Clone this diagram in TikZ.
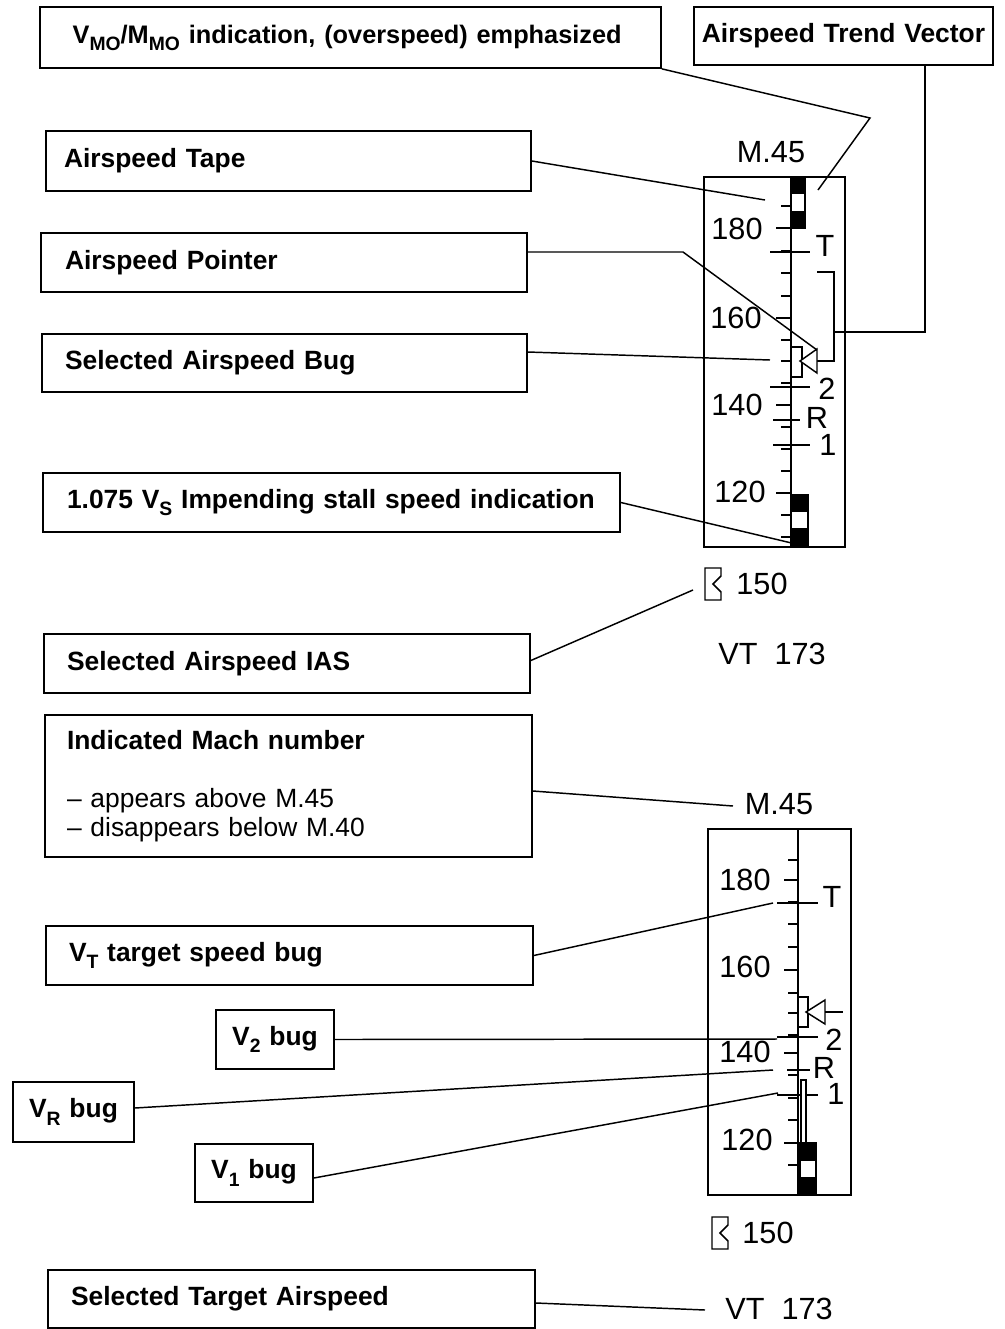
\documentclass[tikz,border=0pt]{standalone}
\usepackage{fontspec}
\setmainfont{Liberation Sans}
\usetikzlibrary{calc}
\newcommand\sbs[1]{\raisebox{-0.28em}{\fontsize{14.5}{14.5}\selectfont #1}}
\newcommand\mybox[8]{%
  \pgfmathsetmacro\myBW{(#4-#2)*0.75}%
  \pgfmathsetmacro\myBH{(#5-#3)*0.75}%
  \pgfmathsetmacro\myTW{(#4-#2-2*#7)*0.75}%
  \pgfmathsetmacro\myPD{#7*0.75}%
  \node[box, align=#6, minimum width=\myBW pt, minimum height=\myBH pt,
        text width=\myTW pt, inner xsep=\myPD pt] (#1) at ({(#2+#4)/2},{(#3+#5)/2}) {#8};}
\begin{document}
\begin{tikzpicture}[x=0.75pt,y=-0.75pt,
  box/.style={draw, line width=1.3pt, font=\bfseries\fontsize{19.8}{21.75}\selectfont, inner ysep=0pt},
  lead/.style={line width=1.1pt},
  tl/.style={inner sep=0pt, font=\fontsize{23}{25}\selectfont},
  tick/.style={line width=1.1pt},
  fr/.style={line width=1.3pt}]
\useasboundingbox (0,0) rectangle (1005,1329);

% ---------- label boxes ----------
\mybox{vmo}{40}{7}{661}{68}{left}{14}{\hspace*{14pt}\fontsize{19}{21}\selectfont\mbox{V\sbs{MO}/M\sbs{MO} indication, (overspeed) emphasized}}
\mybox{atv}{694}{7}{993}{65}{center}{0}{Airspeed Trend Vector}
\mybox{tape}{46}{131}{531}{191}{left}{18}{Airspeed Tape}
\mybox{ptr}{41}{233}{527}{292}{left}{24}{Airspeed Pointer}
\mybox{bug}{42}{334}{527}{392}{left}{23}{Selected Airspeed Bug}
\mybox{stall}{43}{473}{620}{532}{left}{24}{\mbox{1.075 V\sbs{S} Impending stall speed indication}}
\mybox{ias}{44}{634}{530}{693}{left}{23}{Selected Airspeed IAS}
\mybox{mach}{45}{715}{532}{857}{left}{22}{Indicated Mach number\\[21.75pt]\mdseries -- appears above M.45\\ -- disappears below M.40}
\mybox{vt}{46}{926}{533}{985}{left}{23}{V\sbs{T} target speed bug}
\mybox{vtwo}{216}{1010}{334}{1069}{center}{4}{V\sbs{2} bug}
\mybox{vr}{13}{1082}{134}{1142}{center}{4}{V\sbs{R} bug}
\mybox{vone}{195}{1144}{313}{1202}{center}{4}{V\sbs{1} bug}
\mybox{sta}{48}{1270}{535}{1328}{left}{23}{Selected Target Airspeed}

% ---------- upper tape ----------
\draw[fr] (704,177) rectangle (845,547);
\draw[tick] (791,177) -- (791,547);
\foreach \y in {206,251,273,296,340,361,383,427,449,471,515,537}
  \draw[tick] (781,\y) -- (791,\y);
\foreach \y in {228,318,405,493}
  \draw[tick] (776,\y) -- (791,\y);
\draw[tick,fill=black] (791,177) rectangle (805,193);
\draw[tick,fill=white] (791,193) rectangle (805,212);
\draw[tick,fill=black] (791,212) rectangle (805,228);
\draw[tick,fill=black] (791,495) rectangle (808,511);
\draw[tick,fill=white] (791,511) rectangle (808,529);
\draw[tick,fill=black] (791,529) rectangle (808,547);
% bugs
\draw[tick] (770,252) -- (810,252);
\draw[tick] (770,387) -- (810,387);
\draw[tick] (773,420) -- (800,420);
\draw[tick] (773,445) -- (810,445);
% selected speed bug and trend vector
\draw[tick] (791,347) -- (802,347) -- (802,377) -- (791,377);
\draw[tick] (817,272) -- (834,272) -- (834,361) -- (817,361);
\draw[tick,fill=white] (800,361) -- (817,349) -- (817,373) -- cycle;

\node[tl] (ma) at (771,152) {M.45};
\node[tl] (a180) at (737,229) {180};
\node[tl] (a160) at (736,318) {160};
\node[tl] (a140) at (737,405) {140};
\node[tl] (a120) at (740,492) {120};
\node[tl] (aT) at (825,246) {T};
\node[tl] (a2) at (827,389) {2};
\node[tl] (aR) at (817,418) {R};
\node[tl] (a1) at (828,445) {1};
\draw[tick] (705,568) -- (721,568) -- (721,576) -- (713,584) -- (721,592) -- (721,600) -- (705,600) -- cycle;
\node[tl] (a150) at (762,584) {150};
\node[tl] (avt) at (772,654) {VT\ \ 173};

% ---------- lower tape ----------
\draw[fr] (708,829) rectangle (851,1195);
\draw[tick] (798,829) -- (798,1195);
\foreach \y in {860,902,924,947,993,1013,1035,1075,1098,1120,1165}
  \draw[tick] (788,\y) -- (798,\y);
\foreach \y in {880,970,1053,1143}
  \draw[tick] (784,\y) -- (798,\y);
\draw[tick] (777,903) -- (818,903);
\draw[tick] (777,1037) -- (818,1037);
\draw[tick] (787,1070) -- (810,1070);
\draw[tick] (777,1095) -- (818,1095);
\draw[tick] (798,997) -- (808,997) -- (808,1027) -- (798,1027);
\draw[tick,fill=white] (806,1012) -- (825,1000) -- (825,1024) -- cycle;
\draw[tick] (825,1012) -- (843,1012);
\draw[line width=0.9pt,fill=white] (801,1080) rectangle (806,1143);
\draw[tick,fill=black] (800,1143) rectangle (816,1160);
\draw[tick,fill=white] (800,1160) rectangle (816,1178);
\draw[tick,fill=black] (800,1178) rectangle (816,1195);

\node[tl] (mb) at (779,804) {M.45};
\node[tl] (b180) at (745,880) {180};
\node[tl] (b160) at (745,967) {160};
\node[tl] (b140) at (745,1052) {140};
\node[tl] (b120) at (747,1140) {120};
\node[tl] (bT) at (832,897) {T};
\node[tl] (b2) at (834,1040) {2};
\node[tl] (bR) at (824,1068) {R};
\node[tl] (b1) at (836,1094) {1};
\draw[tick,shift={(7,649)}] (705,568) -- (721,568) -- (721,576) -- (713,584) -- (721,592) -- (721,600) -- (705,600) -- cycle;
\node[tl] (b150) at (768,1233) {150};
\node[tl] (bvt) at (779,1309) {VT\ \ 173};

% ---------- leaders ----------
\coordinate (vmoK) at (870,118);
\coordinate (vmoE) at (818,190);
\draw[lead] (vmo.south east) -- (vmoK) -- (vmoE);
\coordinate (tvE) at (834,332);
\coordinate (tvK) at (925,332);
\draw[lead] (tvE) -- (tvK) -- (tvK |- atv.south);
\coordinate (tapeE) at (765,200);
\draw[lead] (tape.east) -- (tapeE);
\coordinate (ptrK) at (683,252);
\coordinate (ptrE) at (817,350);
\draw[lead] (ptr.east |- ptrK) -- (ptrK) -- (ptrE);
\coordinate (bugE) at (770,360);
\draw[lead] ($(bug.east)+(0,-11)$) -- (bugE);
\coordinate (stallE) at (800,545);
\draw[lead] (stall.east) -- (stallE);
\coordinate (iasE) at (693,590);
\draw[lead] ($(ias.east)+(0,-3)$) -- (iasE);
\coordinate (machE) at (733,806);
\draw[lead] ($(mach.east)+(0,5)$) -- (machE);
\coordinate (vtE) at (773,903);
\draw[lead] (vt.east) -- (vtE);
\coordinate (vtwoE) at (777,1039);
\draw[lead] (vtwo.east) -- (vtwoE);
\coordinate (vrE) at (773,1070);
\draw[lead] ($(vr.east)+(0,-4)$) -- (vrE);
\coordinate (voneE) at (778,1093);
\draw[lead] ($(vone.east)+(0,5)$) -- (voneE);
\coordinate (staE) at (705,1310);
\draw[lead] ($(sta.east)+(0,4)$) -- (staE);
\end{tikzpicture}
\end{document}
